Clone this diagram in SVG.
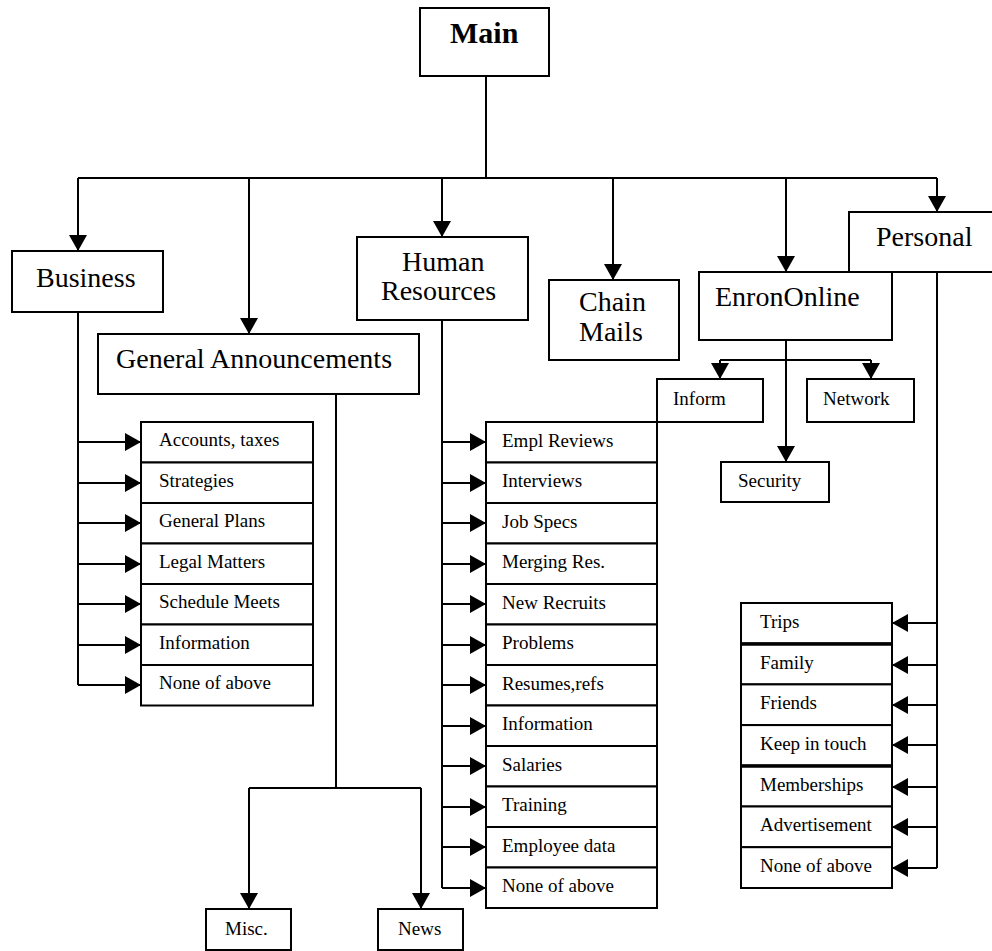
<svg xmlns="http://www.w3.org/2000/svg" width="992" height="951" viewBox="0 0 992 951">
<style>
  .box { fill: #fff; stroke: #000; stroke-width: 2; }
  .thick { fill: none; stroke: #000; stroke-width: 3.5; }
  .ln { fill: none; stroke: #000; stroke-width: 2; }
  .big { font-family: "Liberation Serif", "Times New Roman", serif; font-size: 28px; fill: #000; }
  .main { font-family: "Liberation Serif", "Times New Roman", serif; font-size: 30px; font-weight: bold; fill: #000; }
  .sm { font-family: "Liberation Serif", "Times New Roman", serif; font-size: 19px; fill: #000; }
</style>
<defs>
  <marker id="arr" markerUnits="userSpaceOnUse" markerWidth="18" markerHeight="18" refX="16" refY="9" orient="auto">
    <path d="M0,0 L16,9 L0,18 Z" fill="#000"/>
  </marker>
</defs>
<rect width="992" height="951" fill="#fff"/>

<g id="connectors">
  <!-- main trunk -->
  <path class="ln" d="M486,76 V178 M78,178 H937"/>
  <path class="ln" d="M78,178 V251" marker-end="url(#arr)"/>
  <path class="ln" d="M249,178 V334" marker-end="url(#arr)"/>
  <path class="ln" d="M442,178 V237" marker-end="url(#arr)"/>
  <path class="ln" d="M613,178 V280" marker-end="url(#arr)"/>
  <path class="ln" d="M786,178 V272" marker-end="url(#arr)"/>
  <path class="ln" d="M937,178 V212" marker-end="url(#arr)"/>

  <!-- Business list -->
  <path class="ln" d="M78,312 V685"/>
  <path class="ln" d="M78,442 H141" marker-end="url(#arr)"/>
  <path class="ln" d="M78,483 H141" marker-end="url(#arr)"/>
  <path class="ln" d="M78,523 H141" marker-end="url(#arr)"/>
  <path class="ln" d="M78,564 H141" marker-end="url(#arr)"/>
  <path class="ln" d="M78,604 H141" marker-end="url(#arr)"/>
  <path class="ln" d="M78,645 H141" marker-end="url(#arr)"/>
  <path class="ln" d="M78,685 H141" marker-end="url(#arr)"/>

  <!-- General Announcements -->
  <path class="ln" d="M336,394 V788 M249,788 H421"/>
  <path class="ln" d="M249,788 V909" marker-end="url(#arr)"/>
  <path class="ln" d="M421,788 V909" marker-end="url(#arr)"/>

  <!-- Human Resources list -->
  <path class="ln" d="M442,320 V888"/>
  <path class="ln" d="M442,442 H486" marker-end="url(#arr)"/>
  <path class="ln" d="M442,483 H486" marker-end="url(#arr)"/>
  <path class="ln" d="M442,523 H486" marker-end="url(#arr)"/>
  <path class="ln" d="M442,564 H486" marker-end="url(#arr)"/>
  <path class="ln" d="M442,604 H486" marker-end="url(#arr)"/>
  <path class="ln" d="M442,645 H486" marker-end="url(#arr)"/>
  <path class="ln" d="M442,685 H486" marker-end="url(#arr)"/>
  <path class="ln" d="M442,726 H486" marker-end="url(#arr)"/>
  <path class="ln" d="M442,766 H486" marker-end="url(#arr)"/>
  <path class="ln" d="M442,807 H486" marker-end="url(#arr)"/>
  <path class="ln" d="M442,847 H486" marker-end="url(#arr)"/>
  <path class="ln" d="M442,888 H486" marker-end="url(#arr)"/>

  <!-- EnronOnline -->
  <path class="ln" d="M720,360 H871"/>
  <path class="ln" d="M786,340 V462" marker-end="url(#arr)"/>
  <path class="ln" d="M720,360 V379" marker-end="url(#arr)"/>
  <path class="ln" d="M871,360 V379" marker-end="url(#arr)"/>

  <!-- Personal list -->
  <path class="ln" d="M937,272 V868"/>
  <path class="ln" d="M937,623 H892" marker-end="url(#arr)"/>
  <path class="ln" d="M937,665 H892" marker-end="url(#arr)"/>
  <path class="ln" d="M937,705 H892" marker-end="url(#arr)"/>
  <path class="ln" d="M937,745 H892" marker-end="url(#arr)"/>
  <path class="ln" d="M937,787 H892" marker-end="url(#arr)"/>
  <path class="ln" d="M937,827 H892" marker-end="url(#arr)"/>
  <path class="ln" d="M937,868 H892" marker-end="url(#arr)"/>
</g>

<g id="main"><rect class="box" x="420" y="8" width="129" height="68"/><text class="main" x="450" y="43">Main</text></g>
<g id="business"><rect class="box" x="12" y="251" width="151" height="61"/><text class="big" x="36" y="287">Business</text></g>
<g id="general-announcements"><rect class="box" x="98" y="334" width="321" height="60"/><text class="big" x="116" y="368">General Announcements</text></g>
<g id="human-resources"><rect class="box" x="357" y="237" width="171" height="83"/><text class="big" x="402" y="271">Human</text><text class="big" x="381" y="300">Resources</text></g>
<g id="chain-mails"><rect class="box" x="549" y="280" width="130" height="80"/><text class="big" x="579" y="311">Chain</text><text class="big" x="579" y="341">Mails</text></g>
<g id="personal"><rect class="box" x="849" y="212" width="160" height="60"/><text class="big" x="876" y="246">Personal</text></g>
<g id="enrononline"><rect class="box" x="699" y="272" width="193" height="68"/><text class="big" x="715" y="306">EnronOnline</text></g>
<g id="inform"><rect class="box" x="657" y="379" width="106" height="43"/><text class="sm" x="673" y="405">Inform</text></g>
<g id="network"><rect class="box" x="807" y="379" width="107" height="43"/><text class="sm" x="823" y="405">Network</text></g>
<g id="security"><rect class="box" x="721" y="462" width="108" height="40"/><text class="sm" x="738" y="487">Security</text></g>
<g id="misc"><rect class="box" x="206" y="909" width="85" height="41"/><text class="sm" x="225" y="935">Misc.</text></g>
<g id="news"><rect class="box" x="378" y="909" width="85" height="41"/><text class="sm" x="398" y="935">News</text></g>

<g id="business-list">
  <g id="b-accounts"><rect class="box" x="141" y="422" width="172" height="40.5"/><text class="sm" x="159" y="446">Accounts, taxes</text></g>
  <g id="b-strategies"><rect class="box" x="141" y="462.5" width="172" height="40.5"/><text class="sm" x="159" y="487">Strategies</text></g>
  <g id="b-general-plans"><rect class="box" x="141" y="503" width="172" height="40.5"/><text class="sm" x="159" y="527">General Plans</text></g>
  <g id="b-legal"><rect class="box" x="141" y="543.5" width="172" height="40.5"/><text class="sm" x="159" y="568">Legal Matters</text></g>
  <g id="b-schedule"><rect class="box" x="141" y="584" width="172" height="40.5"/><text class="sm" x="159" y="608">Schedule Meets</text></g>
  <g id="b-information"><rect class="box" x="141" y="624.5" width="172" height="40.5"/><text class="sm" x="159" y="649">Information</text></g>
  <g id="b-none"><rect class="box" x="141" y="665" width="172" height="40.5"/><text class="sm" x="159" y="689">None of above</text></g>
</g>

<g id="hr-list">
  <g id="h-empl-reviews"><rect class="box" x="486" y="422" width="171" height="40.5"/><text class="sm" x="502" y="447">Empl Reviews</text></g>
  <g id="h-interviews"><rect class="box" x="486" y="462.5" width="171" height="40.5"/><text class="sm" x="502" y="487">Interviews</text></g>
  <g id="h-job-specs"><rect class="box" x="486" y="503" width="171" height="40.5"/><text class="sm" x="502" y="528">Job Specs</text></g>
  <g id="h-merging"><rect class="box" x="486" y="543.5" width="171" height="40.5"/><text class="sm" x="502" y="568">Merging Res.</text></g>
  <g id="h-new-recruits"><rect class="box" x="486" y="584" width="171" height="40.5"/><text class="sm" x="502" y="609">New Recruits</text></g>
  <g id="h-problems"><rect class="box" x="486" y="624.5" width="171" height="40.5"/><text class="sm" x="502" y="649">Problems</text></g>
  <g id="h-resumes"><rect class="box" x="486" y="665" width="171" height="40.5"/><text class="sm" x="502" y="690">Resumes,refs</text></g>
  <g id="h-information"><rect class="box" x="486" y="705.5" width="171" height="40.5"/><text class="sm" x="502" y="730">Information</text></g>
  <g id="h-salaries"><rect class="box" x="486" y="746" width="171" height="40.5"/><text class="sm" x="502" y="771">Salaries</text></g>
  <g id="h-training"><rect class="box" x="486" y="786.5" width="171" height="40.5"/><text class="sm" x="502" y="811">Training</text></g>
  <g id="h-employee-data"><rect class="box" x="486" y="827" width="171" height="40.5"/><text class="sm" x="502" y="852">Employee data</text></g>
  <g id="h-none"><rect class="box" x="486" y="867.5" width="171" height="40.5"/><text class="sm" x="502" y="892">None of above</text></g>
</g>

<g id="personal-list">
  <g id="p-trips"><rect class="box" x="741" y="603" width="151" height="40.7"/><text class="sm" x="760" y="628">Trips</text></g>
  <g id="p-family"><rect class="box" x="741" y="643.7" width="151" height="40.7"/><text class="sm" x="760" y="669">Family</text></g>
  <g id="p-friends"><rect class="box" x="741" y="684.4" width="151" height="40.7"/><text class="sm" x="760" y="709">Friends</text></g>
  <g id="p-keep"><rect class="box" x="741" y="725.1" width="151" height="40.7"/><text class="sm" x="760" y="750">Keep in touch</text></g>
  <g id="p-memberships"><rect class="box" x="741" y="765.8" width="151" height="40.7"/><text class="sm" x="760" y="791">Memberships</text></g>
  <g id="p-advertisement"><rect class="box" x="741" y="806.5" width="151" height="40.7"/><text class="sm" x="760" y="831">Advertisement</text></g>
  <g id="p-none"><rect class="box" x="741" y="847.2" width="151" height="40.8"/><text class="sm" x="760" y="872">None of above</text></g>
  <path class="thick" d="M741,644 H892 M741,766 H892"/>
</g>
</svg>
